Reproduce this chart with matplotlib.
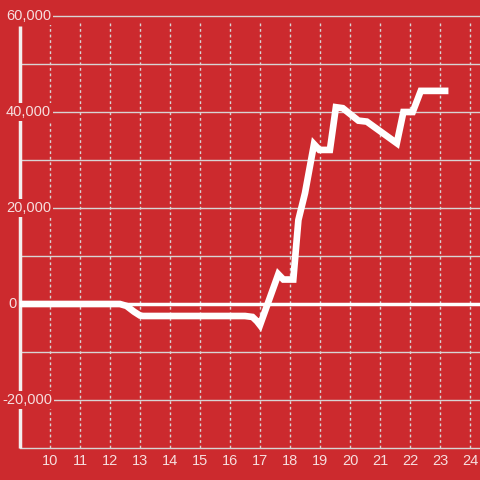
import matplotlib
matplotlib.use("Agg")
import matplotlib.pyplot as plt
from matplotlib.transforms import blended_transform_factory

hours = [9.0, 12.33, 12.55, 12.8, 13.0, 13.1, 16.5, 16.75, 16.9, 17.0, 17.61, 17.78, 18.11,
         18.28, 18.5, 18.8, 18.98, 19.33, 19.53, 19.76, 20.28, 20.56, 21.56, 21.78, 22.09,
         22.36, 23.17]
values = [0, 0, -400, -1600, -2400, -2500, -2500, -2700, -3600, -4400, 6200, 5100, 5100,
          17500, 23100, 33300, 32100, 32100, 41000, 40800, 38200, 38000, 33500, 40000, 40000,
          44400, 44400]

x_ticks = list(range(10, 25))
y_grid = list(range(-30000, 60001, 10000))
y_labels = {60000: "60,000", 40000: "40,000", 20000: "20,000", 0: "0", -20000: "-20,000"}

BG = "#cc2a2e"
TXT = "#f6dede"
GRID = "#d8d4d4"

fig = plt.figure(figsize=(4.8, 4.8), dpi=100, facecolor=BG)
ax = fig.add_axes([20/480, 32/480, 460/480, 432/480])
ax.set_facecolor(BG)
ax.set_xlim(9, 9 + 460/30)
ax.set_ylim(-30000, 60000)
for s in ax.spines.values():
    s.set_visible(False)
ax.set_xticks([])
ax.set_yticks([])

for v in y_grid:
    if v == 0:
        continue
    ax.axhline(v, color=GRID, lw=1.0, zorder=1, clip_on=False)
ax.vlines(x_ticks, -30000, 58500, colors=GRID, lw=1.0, linestyles=(0, (2, 2)), zorder=1)
ax.axhline(0, color="white", lw=2.5, zorder=2)
ax.vlines([9.0], -30000, 58000, colors="#f3eeee", lw=2.5, zorder=2, clip_on=False)

ax.plot(hours, values, color="white", lw=4.8, solid_joinstyle="miter", zorder=5)

tr = blended_transform_factory(fig.transFigure, ax.transData)
for v, t in y_labels.items():
    xpix = 2 if v < 0 else (8 if v == 0 else 6)
    ax.text(xpix/480, v, t, transform=tr,
            ha="left", va="center", color=TXT, fontsize=10.5, family="Liberation Sans",
            bbox=dict(boxstyle="square,pad=0.15", fc=BG, ec="none"), zorder=6, clip_on=False)
for h in x_ticks:
    ax.text(h, -32700, str(h), ha="center", va="center", color=TXT, fontsize=10.5,
            family="Liberation Sans", clip_on=False)

fig.savefig("out.png", dpi=100, facecolor=BG)
